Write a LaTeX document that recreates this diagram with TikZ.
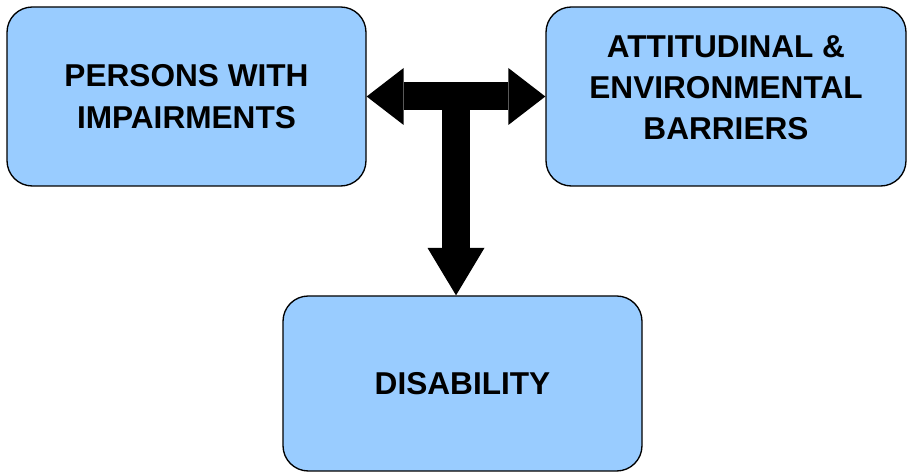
\documentclass[tikz,border=0pt]{standalone}
\usepackage{fontspec}
\setmainfont{Liberation Sans}
\usepackage{xcolor}
\usetikzlibrary{arrows.meta,calc,positioning}

\definecolor{boxblue}{HTML}{99CCFF}

\tikzset{
	block/.style={draw=black,line width=1pt,fill=boxblue,rounded corners=19pt,
		minimum width=269.25pt,minimum height=134.25pt,inner sep=0pt,align=center,
		font=\fontsize{23.7}{32}\selectfont\bfseries},
	fatarrow/.style={draw=black,line width=21pt,
		>={Triangle[length=27.75pt,width=42.75pt,line width=0pt]}},
	longhead/.style={>={Triangle[length=35.6pt,width=42.75pt,line width=0pt]}}
}

\begin{document}
\begin{tikzpicture}[x=0.75pt,y=-0.75pt]
		\useasboundingbox (0,0) rectangle (908,473);
		\node[block] (impair) at (186.5,96.5) {PERSONS WITH\\IMPAIRMENTS};
		\node[block,minimum width=270pt] (barrier) at (726,96.5)
			{\raisebox{5pt}[\height][\depth]{\begin{tabular}{@{}c@{}}ATTITUDINAL \&\\[-1pt]ENVIRONMENTAL\\[-1pt]BARRIERS\end{tabular}}};
		\node[block,minimum height=131.25pt] (disab) at (462.5,383.5) {DISABILITY};
		\coordinate (hub) at ($(impair.east)!0.5!(barrier.west)$);
		\draw[fatarrow,<->] (impair.east) -- (barrier.west);
		\draw[fatarrow,longhead,->] (hub) -- (hub |- disab.north);
		\end{tikzpicture}
\end{document}
